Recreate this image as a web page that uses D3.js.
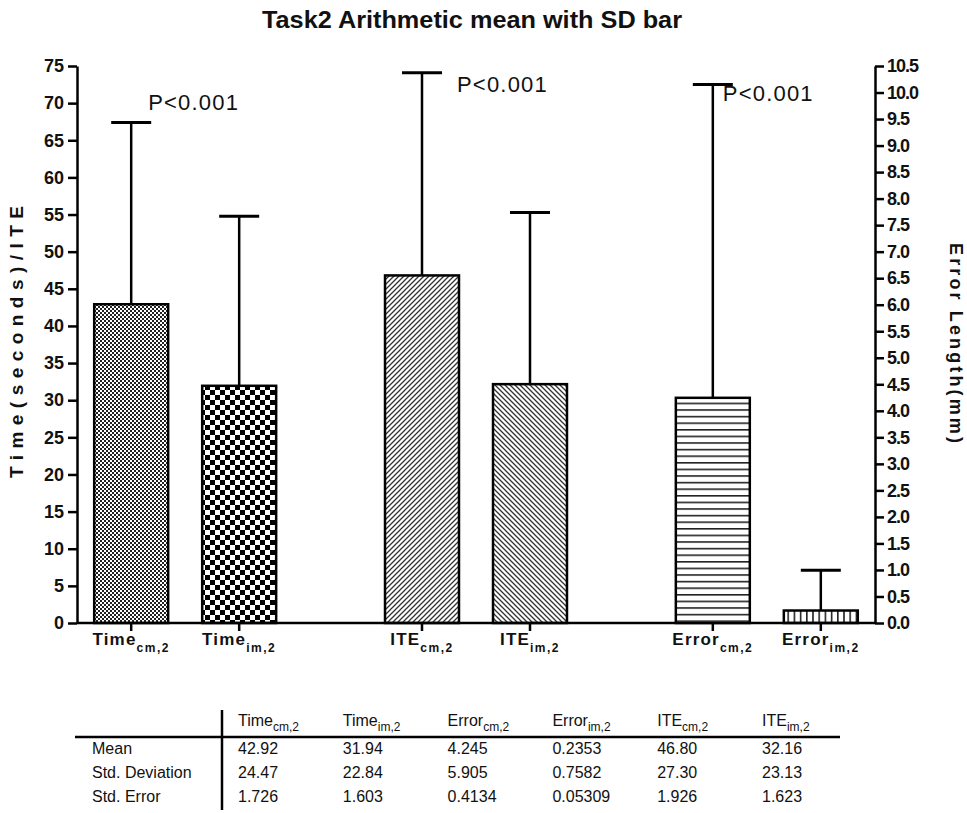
<!DOCTYPE html>
<html>
<head>
<meta charset="utf-8">
<script src="https://cdn.jsdelivr.net/npm/d3@7"></script>
<style>
  html, body { margin: 0; padding: 0; background: #fff; }
  svg { display: block; }
  text { font-family: "Liberation Sans", Arial, sans-serif; fill: #111; }
</style>
</head>
<body>
<svg id="chart" width="967" height="813"></svg>
<script>
// ---------------- data ----------------
const groups = ["Time", "ITE", "Error"];
const conditions = ["cm", "im"];
const barGroup = ["Time", "Time", "ITE", "ITE", "Error", "Error"];
const barCond = ["cm", "im", "cm", "im", "cm", "im"];
const barSub = ["cm,2", "im,2", "cm,2", "im,2", "cm,2", "im,2"];
const barMean = [42.92, 31.94, 46.80, 32.16, 4.245, 0.2353];
const barSD = [24.47, 22.84, 27.30, 23.13, 5.905, 0.7582];
const barAxis = ["left", "left", "left", "left", "right", "right"];
const barPattern = ["fineCheck", "bigCheck", "diagUp", "diagDown", "horiz", "vert"];

const leftTicks = d3.range(0, 75.01, 5);
const rightTicks = d3.range(0, 10.51, 0.5);

const pLabels = ["P<0.001", "P<0.001", "P<0.001"];
const pLevels = [69.1, 71.5, 70.3]; // left-axis units

const tableHead = ["Time", "Time", "Error", "Error", "ITE", "ITE"];
const tableSub = ["cm,2", "im,2", "cm,2", "im,2", "cm,2", "im,2"];
const rowNames = ["Mean", "Std. Deviation", "Std. Error"];
const rowMean = ["42.92", "31.94", "4.245", "0.2353", "46.80", "32.16"];
const rowSD = ["24.47", "22.84", "5.905", "0.7582", "27.30", "23.13"];
const rowSE = ["1.726", "1.603", "0.4134", "0.05309", "1.926", "1.623"];

// ---------------- layout ----------------
const svg = d3.select("#chart");
const X0 = 77, X1 = 875, Y0 = 623, Y1 = 66;

const yL = d3.scaleLinear().domain([0, 75]).range([Y0, Y1]);
const yR = d3.scaleLinear().domain([0, 10.5]).range([Y0, Y1]);
const gx = d3.scalePoint().domain(groups).range([X0, X1]).padding(0.372);
const ix = d3.scaleBand().domain(conditions).range([-125, 125]).padding(0.315);
const cx = i => gx(barGroup[i]) + ix(barCond[i]) + ix.bandwidth() / 2;
const yOf = i => barAxis[i] === "left" ? yL : yR;
const pShift = [-37, -19, -44];

// ---------------- patterns ----------------
const defs = svg.append("defs");
function pat(id, w, h) {
  return defs.append("pattern").attr("id", id).attr("patternUnits", "userSpaceOnUse")
    .attr("width", w).attr("height", h);
}
let p = pat("fineCheck", 4, 4);
p.append("rect").attr("width", 4).attr("height", 4).attr("fill", "#fff");
p.append("rect").attr("width", 2).attr("height", 2).attr("fill", "#222");
p.append("rect").attr("x", 2).attr("y", 2).attr("width", 2).attr("height", 2).attr("fill", "#222");
p = pat("bigCheck", 10, 10);
p.append("rect").attr("width", 10).attr("height", 10).attr("fill", "#fff");
p.append("rect").attr("width", 5).attr("height", 5).attr("fill", "#000");
p.append("rect").attr("x", 5).attr("y", 5).attr("width", 5).attr("height", 5).attr("fill", "#000");
p = pat("diagUp", 5, 5);
p.append("rect").attr("width", 5).attr("height", 5).attr("fill", "#fff");
p.append("path").attr("d", "M-1,6 L6,-1 M-1,1 L1,-1 M4,6 L6,4").attr("stroke", "#333").attr("stroke-width", 1.3);
p = pat("diagDown", 5, 5);
p.append("rect").attr("width", 5).attr("height", 5).attr("fill", "#fff");
p.append("path").attr("d", "M-1,-1 L6,6 M4,-1 L6,1 M-1,4 L1,6").attr("stroke", "#333").attr("stroke-width", 1.3);
p = pat("horiz", 10, 6.6);
p.append("rect").attr("width", 10).attr("height", 6.6).attr("fill", "#fff");
p.append("rect").attr("y", 0).attr("width", 10).attr("height", 1.6).attr("fill", "#222");
p = pat("vert", 6.2, 10);
p.append("rect").attr("width", 6.2).attr("height", 10).attr("fill", "#fff");
p.append("rect").attr("x", 0).attr("width", 1.6).attr("height", 10).attr("fill", "#222");

// ---------------- title ----------------
svg.append("text").attr("x", 472).attr("y", 28).attr("text-anchor", "middle")
  .attr("font-size", 23).attr("font-weight", "bold").attr("textLength", 420)
  .attr("lengthAdjust", "spacingAndGlyphs")
  .text("Task2 Arithmetic mean with SD bar");

// ---------------- bars ----------------
const idx = d3.range(barMean.length);
const bars = svg.append("g");
bars.selectAll("rect").data(idx).join("rect")
  .attr("x", i => cx(i) - ix.bandwidth() / 2)
  .attr("width", ix.bandwidth())
  .attr("y", i => yOf(i)(barMean[i]))
  .attr("height", i => Y0 - yOf(i)(barMean[i]))
  .attr("fill", i => `url(#${barPattern[i]})`)
  .attr("stroke", "#000").attr("stroke-width", 2.5);

// error bars (upper only)
const eb = svg.append("g").attr("stroke", "#000");
eb.selectAll("line.v").data(idx).join("line").attr("class", "v")
  .attr("x1", cx).attr("x2", cx)
  .attr("y1", i => yOf(i)(barMean[i]))
  .attr("y2", i => yOf(i)(barMean[i] + barSD[i]))
  .attr("stroke-width", 2.5);
eb.selectAll("line.c").data(idx).join("line").attr("class", "c")
  .attr("x1", i => cx(i) - 20).attr("x2", i => cx(i) + 20)
  .attr("y1", i => yOf(i)(barMean[i] + barSD[i]))
  .attr("y2", i => yOf(i)(barMean[i] + barSD[i]))
  .attr("stroke-width", 3);

// ---------------- axes ----------------
const axL = svg.append("g").attr("transform", `translate(${X0},0)`)
  .call(d3.axisLeft(yL).tickValues(leftTicks).tickFormat(d3.format("d")).tickSize(9).tickSizeOuter(0));
const axR = svg.append("g").attr("transform", `translate(${X1},0)`)
  .call(d3.axisRight(yR).tickValues(rightTicks).tickFormat(d3.format(".1f")).tickSize(9).tickSizeOuter(0));
[axL, axR].forEach(a => {
  a.select(".domain").attr("stroke", "#000").attr("stroke-width", 2.5);
  a.selectAll(".tick line").attr("stroke", "#000").attr("stroke-width", 2.5);
  a.selectAll(".tick text").attr("font-size", 18).attr("font-weight", "bold")
    .attr("font-family", "'Liberation Sans', Arial, sans-serif").attr("fill", "#111");
});
axL.selectAll(".tick text").attr("x", -13);
axR.selectAll(".tick text").attr("x", 12).attr("letter-spacing", -1);

// x axis
svg.append("line").attr("x1", X0).attr("x2", X1).attr("y1", Y0).attr("y2", Y0)
  .attr("stroke", "#000").attr("stroke-width", 2.5);
svg.append("g").selectAll("line").data(idx).join("line")
  .attr("x1", cx).attr("x2", cx).attr("y1", Y0).attr("y2", Y0 + 8)
  .attr("stroke", "#000").attr("stroke-width", 2.5);
const xl = svg.append("g").selectAll("text").data(idx).join("text")
  .attr("x", cx).attr("y", 645).attr("text-anchor", "middle")
  .attr("font-weight", "bold").attr("font-size", 17).attr("letter-spacing", 1.2);
xl.append("tspan").text(i => barGroup[i]);
xl.append("tspan").attr("dy", 7).attr("font-size", 12).attr("letter-spacing", 1.5).text(i => barSub[i]);

// axis titles
svg.append("text").attr("transform", `translate(23,342) rotate(-90)`).attr("text-anchor", "middle")
  .attr("font-size", 19).attr("font-weight", "bold").attr("textLength", 272)
  .attr("lengthAdjust", "spacing").text("Time(seconds)/ITE");
svg.append("text").attr("transform", `translate(950,343) rotate(90)`).attr("text-anchor", "middle")
  .attr("font-size", 18).attr("font-weight", "bold").attr("textLength", 200)
  .attr("lengthAdjust", "spacing").text("Error Length(mm)");

// P annotations
svg.append("g").selectAll("text").data(pLabels).join("text")
  .attr("x", (d, i) => gx(groups[i]) + pShift[i]).attr("y", (d, i) => yL(pLevels[i]))
  .attr("text-anchor", "start").attr("font-size", 22).attr("letter-spacing", 1.2)
  .text(d => d);

// ---------------- table ----------------
const tbl = svg.append("g");
const colX = d3.scalePoint().domain(d3.range(6)).range([238, 762]);
const rows = [rowMean, rowSD, rowSE];
const rowY = d3.scalePoint().domain(d3.range(3)).range([754, 802]);
tbl.append("line").attr("x1", 75).attr("x2", 840).attr("y1", 737).attr("y2", 737)
  .attr("stroke", "#000").attr("stroke-width", 2.5);
tbl.append("line").attr("x1", 222).attr("x2", 222).attr("y1", 710).attr("y2", 810)
  .attr("stroke", "#000").attr("stroke-width", 2.5);
const th = tbl.selectAll("text.h").data(d3.range(6)).join("text").attr("class", "h")
  .attr("x", i => colX(i)).attr("y", 726).attr("font-size", 16);
th.append("tspan").text(i => tableHead[i]);
th.append("tspan").attr("dy", 5).attr("font-size", 12).text(i => tableSub[i]);
tbl.selectAll("text.r").data(rowNames).join("text").attr("class", "r")
  .attr("x", 92).attr("y", (d, i) => rowY(i)).attr("font-size", 16).text(d => d);
rows.forEach((r, ri) => {
  tbl.selectAll(`text.v${ri}`).data(r).join("text").attr("class", `v${ri}`)
    .attr("x", (d, i) => colX(i)).attr("y", rowY(ri)).attr("font-size", 16).text(d => d);
});
</script>
</body>
</html>
